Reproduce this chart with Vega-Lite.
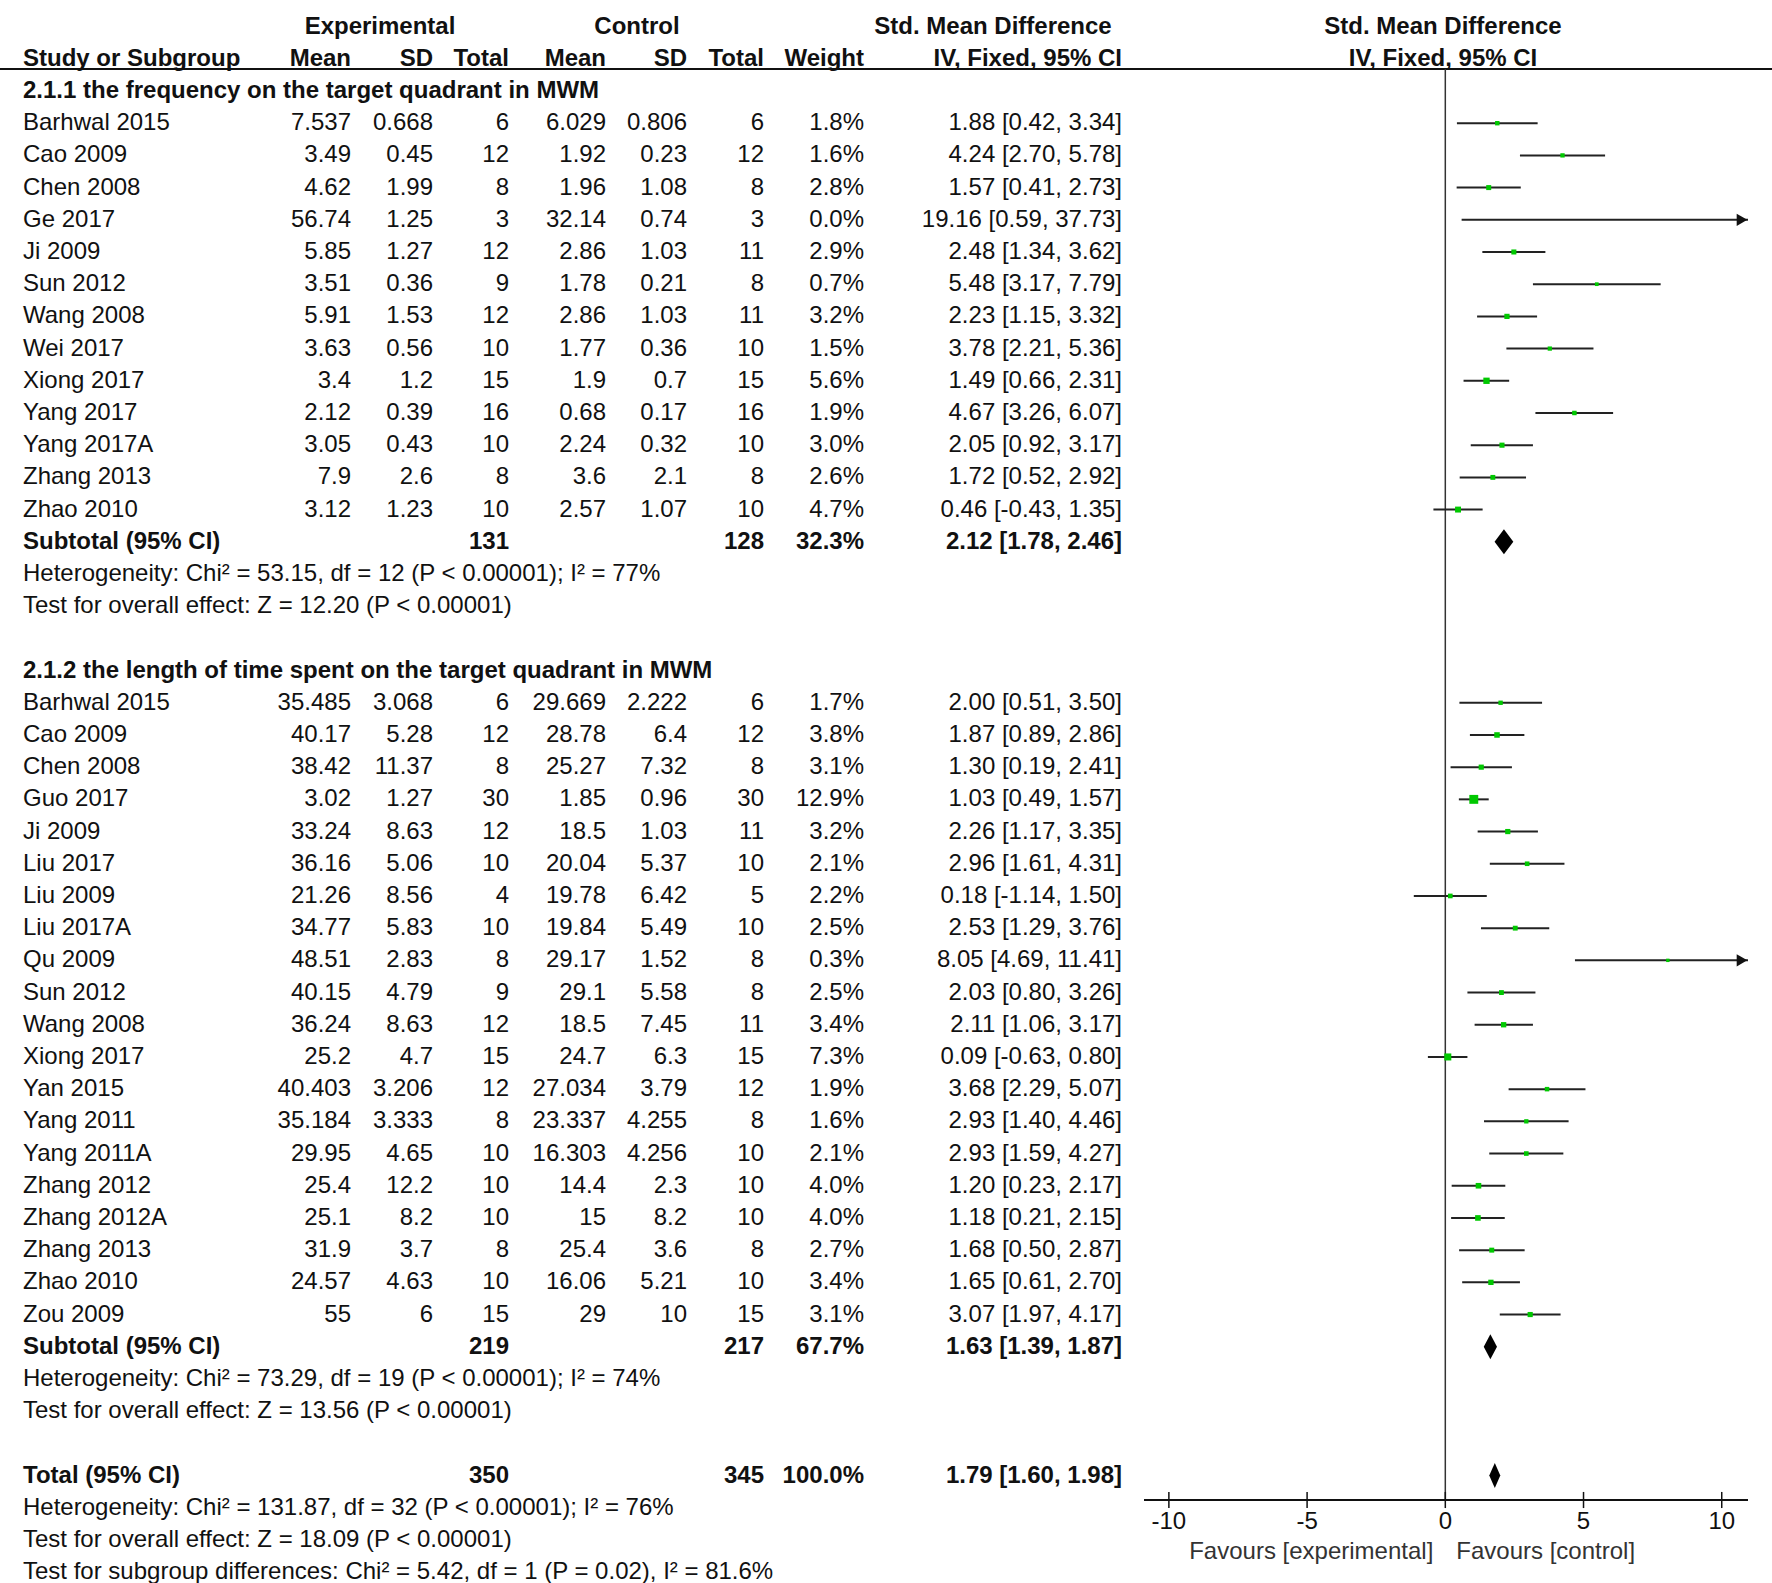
{
"$schema": "https://vega.github.io/schema/vega-lite/v6.json",
"width": 1772,
"height": 1500,
"autosize": {"type": "none"},
"padding": {"left": 0, "top": 0, "right": 0, "bottom": 83},
"background": "white",
"config": {
  "view": {"stroke": null},
  "text": {"font": "Liberation Sans", "fontSize": 24, "color": "#111"}
},
"datasets": {
  "rows": [
    {"row":0,"type":"heading","group":"2.1.1","label":"2.1.1 the frequency on the target quadrant in MWM"},
    {"row":1,"type":"study","group":"2.1.1","label":"Barhwal 2015","em":"7.537","esd":"0.668","en":"6","cm":"6.029","csd":"0.806","cn":"6","w":"1.8%","ci":"1.88 [0.42, 3.34]","wt":1.8,"smd":1.88,"lo":0.42,"hi":3.34},
    {"row":2,"type":"study","group":"2.1.1","label":"Cao 2009","em":"3.49","esd":"0.45","en":"12","cm":"1.92","csd":"0.23","cn":"12","w":"1.6%","ci":"4.24 [2.70, 5.78]","wt":1.6,"smd":4.24,"lo":2.70,"hi":5.78},
    {"row":3,"type":"study","group":"2.1.1","label":"Chen 2008","em":"4.62","esd":"1.99","en":"8","cm":"1.96","csd":"1.08","cn":"8","w":"2.8%","ci":"1.57 [0.41, 2.73]","wt":2.8,"smd":1.57,"lo":0.41,"hi":2.73},
    {"row":4,"type":"study","group":"2.1.1","label":"Ge 2017","em":"56.74","esd":"1.25","en":"3","cm":"32.14","csd":"0.74","cn":"3","w":"0.0%","ci":"19.16 [0.59, 37.73]","wt":0.0,"smd":19.16,"lo":0.59,"hi":37.73},
    {"row":5,"type":"study","group":"2.1.1","label":"Ji 2009","em":"5.85","esd":"1.27","en":"12","cm":"2.86","csd":"1.03","cn":"11","w":"2.9%","ci":"2.48 [1.34, 3.62]","wt":2.9,"smd":2.48,"lo":1.34,"hi":3.62},
    {"row":6,"type":"study","group":"2.1.1","label":"Sun 2012","em":"3.51","esd":"0.36","en":"9","cm":"1.78","csd":"0.21","cn":"8","w":"0.7%","ci":"5.48 [3.17, 7.79]","wt":0.7,"smd":5.48,"lo":3.17,"hi":7.79},
    {"row":7,"type":"study","group":"2.1.1","label":"Wang 2008","em":"5.91","esd":"1.53","en":"12","cm":"2.86","csd":"1.03","cn":"11","w":"3.2%","ci":"2.23 [1.15, 3.32]","wt":3.2,"smd":2.23,"lo":1.15,"hi":3.32},
    {"row":8,"type":"study","group":"2.1.1","label":"Wei 2017","em":"3.63","esd":"0.56","en":"10","cm":"1.77","csd":"0.36","cn":"10","w":"1.5%","ci":"3.78 [2.21, 5.36]","wt":1.5,"smd":3.78,"lo":2.21,"hi":5.36},
    {"row":9,"type":"study","group":"2.1.1","label":"Xiong 2017","em":"3.4","esd":"1.2","en":"15","cm":"1.9","csd":"0.7","cn":"15","w":"5.6%","ci":"1.49 [0.66, 2.31]","wt":5.6,"smd":1.49,"lo":0.66,"hi":2.31},
    {"row":10,"type":"study","group":"2.1.1","label":"Yang 2017","em":"2.12","esd":"0.39","en":"16","cm":"0.68","csd":"0.17","cn":"16","w":"1.9%","ci":"4.67 [3.26, 6.07]","wt":1.9,"smd":4.67,"lo":3.26,"hi":6.07},
    {"row":11,"type":"study","group":"2.1.1","label":"Yang 2017A","em":"3.05","esd":"0.43","en":"10","cm":"2.24","csd":"0.32","cn":"10","w":"3.0%","ci":"2.05 [0.92, 3.17]","wt":3.0,"smd":2.05,"lo":0.92,"hi":3.17},
    {"row":12,"type":"study","group":"2.1.1","label":"Zhang 2013","em":"7.9","esd":"2.6","en":"8","cm":"3.6","csd":"2.1","cn":"8","w":"2.6%","ci":"1.72 [0.52, 2.92]","wt":2.6,"smd":1.72,"lo":0.52,"hi":2.92},
    {"row":13,"type":"study","group":"2.1.1","label":"Zhao 2010","em":"3.12","esd":"1.23","en":"10","cm":"2.57","csd":"1.07","cn":"10","w":"4.7%","ci":"0.46 [-0.43, 1.35]","wt":4.7,"smd":0.46,"lo":-0.43,"hi":1.35},
    {"row":14,"type":"subtotal","group":"2.1.1","label":"Subtotal (95% CI)","en":"131","cn":"128","w":"32.3%","ci":"2.12 [1.78, 2.46]","smd":2.12,"lo":1.78,"hi":2.46},
    {"row":15,"type":"note","group":"2.1.1","label":"Heterogeneity: Chi² = 53.15, df = 12 (P < 0.00001); I² = 77%"},
    {"row":16,"type":"note","group":"2.1.1","label":"Test for overall effect: Z = 12.20 (P < 0.00001)"},
    {"row":18,"type":"heading","group":"2.1.2","label":"2.1.2 the length of time spent on the target quadrant in MWM"},
    {"row":19,"type":"study","group":"2.1.2","label":"Barhwal 2015","em":"35.485","esd":"3.068","en":"6","cm":"29.669","csd":"2.222","cn":"6","w":"1.7%","ci":"2.00 [0.51, 3.50]","wt":1.7,"smd":2.00,"lo":0.51,"hi":3.50},
    {"row":20,"type":"study","group":"2.1.2","label":"Cao 2009","em":"40.17","esd":"5.28","en":"12","cm":"28.78","csd":"6.4","cn":"12","w":"3.8%","ci":"1.87 [0.89, 2.86]","wt":3.8,"smd":1.87,"lo":0.89,"hi":2.86},
    {"row":21,"type":"study","group":"2.1.2","label":"Chen 2008","em":"38.42","esd":"11.37","en":"8","cm":"25.27","csd":"7.32","cn":"8","w":"3.1%","ci":"1.30 [0.19, 2.41]","wt":3.1,"smd":1.30,"lo":0.19,"hi":2.41},
    {"row":22,"type":"study","group":"2.1.2","label":"Guo 2017","em":"3.02","esd":"1.27","en":"30","cm":"1.85","csd":"0.96","cn":"30","w":"12.9%","ci":"1.03 [0.49, 1.57]","wt":12.9,"smd":1.03,"lo":0.49,"hi":1.57},
    {"row":23,"type":"study","group":"2.1.2","label":"Ji 2009","em":"33.24","esd":"8.63","en":"12","cm":"18.5","csd":"1.03","cn":"11","w":"3.2%","ci":"2.26 [1.17, 3.35]","wt":3.2,"smd":2.26,"lo":1.17,"hi":3.35},
    {"row":24,"type":"study","group":"2.1.2","label":"Liu  2017","em":"36.16","esd":"5.06","en":"10","cm":"20.04","csd":"5.37","cn":"10","w":"2.1%","ci":"2.96 [1.61, 4.31]","wt":2.1,"smd":2.96,"lo":1.61,"hi":4.31},
    {"row":25,"type":"study","group":"2.1.2","label":"Liu 2009","em":"21.26","esd":"8.56","en":"4","cm":"19.78","csd":"6.42","cn":"5","w":"2.2%","ci":"0.18 [-1.14, 1.50]","wt":2.2,"smd":0.18,"lo":-1.14,"hi":1.50},
    {"row":26,"type":"study","group":"2.1.2","label":"Liu 2017A","em":"34.77","esd":"5.83","en":"10","cm":"19.84","csd":"5.49","cn":"10","w":"2.5%","ci":"2.53 [1.29, 3.76]","wt":2.5,"smd":2.53,"lo":1.29,"hi":3.76},
    {"row":27,"type":"study","group":"2.1.2","label":"Qu 2009","em":"48.51","esd":"2.83","en":"8","cm":"29.17","csd":"1.52","cn":"8","w":"0.3%","ci":"8.05 [4.69, 11.41]","wt":0.3,"smd":8.05,"lo":4.69,"hi":11.41},
    {"row":28,"type":"study","group":"2.1.2","label":"Sun 2012","em":"40.15","esd":"4.79","en":"9","cm":"29.1","csd":"5.58","cn":"8","w":"2.5%","ci":"2.03 [0.80, 3.26]","wt":2.5,"smd":2.03,"lo":0.80,"hi":3.26},
    {"row":29,"type":"study","group":"2.1.2","label":"Wang 2008","em":"36.24","esd":"8.63","en":"12","cm":"18.5","csd":"7.45","cn":"11","w":"3.4%","ci":"2.11 [1.06, 3.17]","wt":3.4,"smd":2.11,"lo":1.06,"hi":3.17},
    {"row":30,"type":"study","group":"2.1.2","label":"Xiong 2017","em":"25.2","esd":"4.7","en":"15","cm":"24.7","csd":"6.3","cn":"15","w":"7.3%","ci":"0.09 [-0.63, 0.80]","wt":7.3,"smd":0.09,"lo":-0.63,"hi":0.80},
    {"row":31,"type":"study","group":"2.1.2","label":"Yan 2015","em":"40.403","esd":"3.206","en":"12","cm":"27.034","csd":"3.79","cn":"12","w":"1.9%","ci":"3.68 [2.29, 5.07]","wt":1.9,"smd":3.68,"lo":2.29,"hi":5.07},
    {"row":32,"type":"study","group":"2.1.2","label":"Yang 2011","em":"35.184","esd":"3.333","en":"8","cm":"23.337","csd":"4.255","cn":"8","w":"1.6%","ci":"2.93 [1.40, 4.46]","wt":1.6,"smd":2.93,"lo":1.40,"hi":4.46},
    {"row":33,"type":"study","group":"2.1.2","label":"Yang 2011A","em":"29.95","esd":"4.65","en":"10","cm":"16.303","csd":"4.256","cn":"10","w":"2.1%","ci":"2.93 [1.59, 4.27]","wt":2.1,"smd":2.93,"lo":1.59,"hi":4.27},
    {"row":34,"type":"study","group":"2.1.2","label":"Zhang 2012","em":"25.4","esd":"12.2","en":"10","cm":"14.4","csd":"2.3","cn":"10","w":"4.0%","ci":"1.20 [0.23, 2.17]","wt":4.0,"smd":1.20,"lo":0.23,"hi":2.17},
    {"row":35,"type":"study","group":"2.1.2","label":"Zhang 2012A","em":"25.1","esd":"8.2","en":"10","cm":"15","csd":"8.2","cn":"10","w":"4.0%","ci":"1.18 [0.21, 2.15]","wt":4.0,"smd":1.18,"lo":0.21,"hi":2.15},
    {"row":36,"type":"study","group":"2.1.2","label":"Zhang 2013","em":"31.9","esd":"3.7","en":"8","cm":"25.4","csd":"3.6","cn":"8","w":"2.7%","ci":"1.68 [0.50, 2.87]","wt":2.7,"smd":1.68,"lo":0.50,"hi":2.87},
    {"row":37,"type":"study","group":"2.1.2","label":"Zhao 2010","em":"24.57","esd":"4.63","en":"10","cm":"16.06","csd":"5.21","cn":"10","w":"3.4%","ci":"1.65 [0.61, 2.70]","wt":3.4,"smd":1.65,"lo":0.61,"hi":2.70},
    {"row":38,"type":"study","group":"2.1.2","label":"Zou 2009","em":"55","esd":"6","en":"15","cm":"29","csd":"10","cn":"15","w":"3.1%","ci":"3.07 [1.97, 4.17]","wt":3.1,"smd":3.07,"lo":1.97,"hi":4.17},
    {"row":39,"type":"subtotal","group":"2.1.2","label":"Subtotal (95% CI)","en":"219","cn":"217","w":"67.7%","ci":"1.63 [1.39, 1.87]","smd":1.63,"lo":1.39,"hi":1.87},
    {"row":40,"type":"note","group":"2.1.2","label":"Heterogeneity: Chi² = 73.29, df = 19 (P < 0.00001); I² = 74%"},
    {"row":41,"type":"note","group":"2.1.2","label":"Test for overall effect: Z = 13.56 (P < 0.00001)"},
    {"row":43,"type":"total","group":"all","label":"Total (95% CI)","en":"350","cn":"345","w":"100.0%","ci":"1.79 [1.60, 1.98]","smd":1.79,"lo":1.60,"hi":1.98},
    {"row":44,"type":"note","group":"all","label":"Heterogeneity: Chi² = 131.87, df = 32 (P < 0.00001); I² = 76%"},
    {"row":45,"type":"note","group":"all","label":"Test for overall effect: Z = 18.09 (P < 0.00001)"},
    {"row":46,"type":"note","group":"all","label":"Test for subgroup differences: Chi² = 5.42, df = 1 (P = 0.02), I² = 81.6%"}
  ],
  "header": [
    {"row":-2,"col":"expHead","text":"Experimental"},
    {"row":-2,"col":"ctlHead","text":"Control"},
    {"row":-2,"col":"smdHead","text":"Std. Mean Difference"},
    {"row":-2,"col":"plotHead","text":"Std. Mean Difference"},
    {"row":-1,"col":"label","text":"Study or Subgroup"},
    {"row":-1,"col":"em","text":"Mean"},
    {"row":-1,"col":"esd","text":"SD"},
    {"row":-1,"col":"en","text":"Total"},
    {"row":-1,"col":"cm","text":"Mean"},
    {"row":-1,"col":"csd","text":"SD"},
    {"row":-1,"col":"cn","text":"Total"},
    {"row":-1,"col":"w","text":"Weight"},
    {"row":-1,"col":"ci","text":"IV, Fixed, 95% CI"},
    {"row":-1,"col":"plotHead","text":"IV, Fixed, 95% CI"}
  ],
  "cols": [
    {"col":"label","pos":0},{"col":"em","pos":1},{"col":"expHead","pos":2},{"col":"esd","pos":3},
    {"col":"en","pos":4},{"col":"cm","pos":5},{"col":"ctlHead","pos":6},{"col":"csd","pos":7},
    {"col":"cn","pos":8},{"col":"w","pos":9},{"col":"smdHead","pos":10},{"col":"ci","pos":11},{"col":"plotHead","pos":12}
  ],
  "ticks": [{"v":-10},{"v":-5},{"v":0},{"v":5},{"v":10}]
},
"resolve": {"scale": {"x": "independent"}},
"layer": [
  {
    "data": {"name": "rows"},
    "layer": [
      {
        "transform": [{"filter": "datum.type == 'study' || datum.type == 'note'"}],
        "mark": {"type": "text", "align": "left"},
        "encoding": {
          "x": {"datum": 0, "type": "quantitative", "axis": null,
                "scale": {"type": "linear", "domain": [0,1,2,3,4,5,6,7,8,9,10,11,12], "range": [23,351,380,433,509,606,637,687,764,864,993,1122,1443], "nice": false, "zero": false}},
          "y": {"field": "row", "type": "quantitative", "axis": null, "scale": {"domain": [-2.826, 43.76], "reverse": true, "nice": false, "zero": false}},
          "text": {"field": "label"}
        }
      },
      {
        "transform": [{"filter": "datum.type == 'heading' || datum.type == 'subtotal' || datum.type == 'total'"}],
        "mark": {"type": "text", "align": "left", "fontWeight": "bold"},
        "encoding": {
          "x": {"datum": 0, "type": "quantitative", "axis": null,
                "scale": {"type": "linear", "domain": [0,1,2,3,4,5,6,7,8,9,10,11,12], "range": [23,351,380,433,509,606,637,687,764,864,993,1122,1443], "nice": false, "zero": false}},
          "y": {"field": "row", "type": "quantitative", "axis": null, "scale": {"domain": [-2.826, 43.76], "reverse": true, "nice": false, "zero": false}},
          "text": {"field": "label"}
        }
      },
      {
        "transform": [
          {"filter": "datum.type == 'study'"},
          {"fold": ["em","esd","en","cm","csd","cn","w","ci"], "as": ["col","val"]},
          {"filter": "datum.val != null"},
          {"lookup": "col", "from": {"data": {"name": "cols"}, "key": "col", "fields": ["pos"]}}
        ],
        "mark": {"type": "text", "align": "right"},
        "encoding": {
          "x": {"field": "pos", "type": "quantitative", "axis": null,
                "scale": {"type": "linear", "domain": [0,1,2,3,4,5,6,7,8,9,10,11,12], "range": [23,351,380,433,509,606,637,687,764,864,993,1122,1443], "nice": false, "zero": false}},
          "y": {"field": "row", "type": "quantitative", "axis": null, "scale": {"domain": [-2.826, 43.76], "reverse": true, "nice": false, "zero": false}},
          "text": {"field": "val"}
        }
      },
      {
        "transform": [
          {"filter": "datum.type == 'subtotal' || datum.type == 'total'"},
          {"fold": ["en","cn","w","ci"], "as": ["col","val"]},
          {"filter": "datum.val != null"},
          {"lookup": "col", "from": {"data": {"name": "cols"}, "key": "col", "fields": ["pos"]}}
        ],
        "mark": {"type": "text", "align": "right", "fontWeight": "bold"},
        "encoding": {
          "x": {"field": "pos", "type": "quantitative", "axis": null,
                "scale": {"type": "linear", "domain": [0,1,2,3,4,5,6,7,8,9,10,11,12], "range": [23,351,380,433,509,606,637,687,764,864,993,1122,1443], "nice": false, "zero": false}},
          "y": {"field": "row", "type": "quantitative", "axis": null, "scale": {"domain": [-2.826, 43.76], "reverse": true, "nice": false, "zero": false}},
          "text": {"field": "val"}
        }
      },
      {
        "data": {"name": "header"},
        "transform": [
          {"filter": "datum.row == -2 || datum.col == 'plotHead'"},
          {"lookup": "col", "from": {"data": {"name": "cols"}, "key": "col", "fields": ["pos"]}}
        ],
        "mark": {"type": "text", "align": "center", "fontWeight": "bold"},
        "encoding": {
          "x": {"field": "pos", "type": "quantitative", "axis": null,
                "scale": {"type": "linear", "domain": [0,1,2,3,4,5,6,7,8,9,10,11,12], "range": [23,351,380,433,509,606,637,687,764,864,993,1122,1443], "nice": false, "zero": false}},
          "y": {"field": "row", "type": "quantitative", "axis": null, "scale": {"domain": [-2.826, 43.76], "reverse": true, "nice": false, "zero": false}},
          "text": {"field": "text"}
        }
      },
      {
        "data": {"name": "header"},
        "transform": [
          {"filter": "datum.row == -1 && datum.col == 'label'"},
          {"lookup": "col", "from": {"data": {"name": "cols"}, "key": "col", "fields": ["pos"]}}
        ],
        "mark": {"type": "text", "align": "left", "fontWeight": "bold"},
        "encoding": {
          "x": {"field": "pos", "type": "quantitative", "axis": null,
                "scale": {"type": "linear", "domain": [0,1,2,3,4,5,6,7,8,9,10,11,12], "range": [23,351,380,433,509,606,637,687,764,864,993,1122,1443], "nice": false, "zero": false}},
          "y": {"field": "row", "type": "quantitative", "axis": null, "scale": {"domain": [-2.826, 43.76], "reverse": true, "nice": false, "zero": false}},
          "text": {"field": "text"}
        }
      },
      {
        "data": {"name": "header"},
        "transform": [
          {"filter": "datum.row == -1 && datum.col != 'label' && datum.col != 'plotHead'"},
          {"lookup": "col", "from": {"data": {"name": "cols"}, "key": "col", "fields": ["pos"]}}
        ],
        "mark": {"type": "text", "align": "right", "fontWeight": "bold"},
        "encoding": {
          "x": {"field": "pos", "type": "quantitative", "axis": null,
                "scale": {"type": "linear", "domain": [0,1,2,3,4,5,6,7,8,9,10,11,12], "range": [23,351,380,433,509,606,637,687,764,864,993,1122,1443], "nice": false, "zero": false}},
          "y": {"field": "row", "type": "quantitative", "axis": null, "scale": {"domain": [-2.826, 43.76], "reverse": true, "nice": false, "zero": false}},
          "text": {"field": "text"}
        }
      },
      {
        "data": {"name": "ticks"},
        "transform": [{"filter": "datum.v == 0"}],
        "mark": {"type": "rule", "color": "#111", "strokeWidth": 2},
        "encoding": {
          "y": {"datum": -0.68, "type": "quantitative", "axis": null,
                "scale": {"domain": [-2.826, 43.76], "reverse": true, "nice": false, "zero": false}}
        }
      }
    ]
  },
  {
    "data": {"name": "rows"},
    "layer": [
      {
        "data": {"name": "ticks"},
        "transform": [{"filter": "datum.v == 0"}],
        "mark": {"type": "rule", "color": "#333", "strokeWidth": 1.5},
        "encoding": {
          "x": {"field": "v", "type": "quantitative", "axis": null,
                "scale": {"domain": [-10.9, 10.95], "range": [1144, 1748], "nice": false, "zero": false, "clamp": true}},
          "y": {"datum": -0.68, "type": "quantitative", "axis": null,
                "scale": {"domain": [-2.826, 43.76], "reverse": true, "nice": false, "zero": false}},
          "y2": {"datum": 43.76}
        }
      },
      {
        "data": {"name": "ticks"},
        "transform": [{"filter": "datum.v == 0"}],
        "mark": {"type": "rule", "color": "#111", "strokeWidth": 2},
        "encoding": {
          "x": {"datum": -10.9, "type": "quantitative", "axis": null,
                "scale": {"domain": [-10.9, 10.95], "range": [1144, 1748], "nice": false, "zero": false, "clamp": true}},
          "x2": {"datum": 10.95},
          "y": {"datum": 43.76, "type": "quantitative", "axis": null,
                "scale": {"domain": [-2.826, 43.76], "reverse": true, "nice": false, "zero": false}}
        }
      },
      {
        "transform": [{"filter": "datum.type == 'study'"}],
        "mark": {"type": "rule", "color": "#222", "strokeWidth": 2},
        "encoding": {
          "x": {"field": "lo", "type": "quantitative", "axis": null,
                "scale": {"domain": [-10.9, 10.95], "range": [1144, 1748], "nice": false, "zero": false, "clamp": true}},
          "x2": {"field": "hi"},
          "y": {"field": "row", "type": "quantitative", "axis": null, "scale": {"domain": [-2.826, 43.76], "reverse": true, "nice": false, "zero": false}}
        }
      },
      {
        "transform": [{"filter": "datum.type == 'study' && datum.hi > 10.95"}],
        "mark": {"type": "point", "shape": "triangle-right", "filled": true, "color": "#111", "size": 150, "opacity": 1, "xOffset": -6},
        "encoding": {
          "x": {"field": "hi", "type": "quantitative", "axis": null,
                "scale": {"domain": [-10.9, 10.95], "range": [1144, 1748], "nice": false, "zero": false, "clamp": true}},
          "y": {"field": "row", "type": "quantitative", "axis": null, "scale": {"domain": [-2.826, 43.76], "reverse": true, "nice": false, "zero": false}}
        }
      },
      {
        "transform": [{"filter": "datum.type == 'study' && datum.smd < 10.95"}],
        "mark": {"type": "point", "shape": "square", "filled": true, "color": "#00c800", "opacity": 1},
        "encoding": {
          "x": {"field": "smd", "type": "quantitative", "axis": null,
                "scale": {"domain": [-10.9, 10.95], "range": [1144, 1748], "nice": false, "zero": false, "clamp": true}},
          "y": {"field": "row", "type": "quantitative", "axis": null, "scale": {"domain": [-2.826, 43.76], "reverse": true, "nice": false, "zero": false}},
          "size": {"field": "wt", "type": "quantitative", "legend": null,
                   "scale": {"domain": [0, 13], "range": [10, 80], "zero": false}}
        }
      },
      {
        "transform": [{"filter": "datum.type == 'subtotal' || datum.type == 'total'"}],
        "mark": {"type": "point", "filled": true, "color": "#000", "size": 625, "opacity": 1},
        "encoding": {
          "x": {"field": "smd", "type": "quantitative", "axis": null,
                "scale": {"domain": [-10.9, 10.95], "range": [1144, 1748], "nice": false, "zero": false, "clamp": true}},
          "y": {"field": "row", "type": "quantitative", "axis": null, "scale": {"domain": [-2.826, 43.76], "reverse": true, "nice": false, "zero": false}},
          "shape": {"field": "group", "type": "nominal", "legend": null,
                    "scale": {"domain": ["2.1.1", "2.1.2", "all"],
                              "range": ["M -0.75 0 L 0 -1 L 0.75 0 L 0 1 Z", "M -0.53 0 L 0 -1 L 0.53 0 L 0 1 Z", "M -0.44 0 L 0 -1 L 0.44 0 L 0 1 Z"]}}
        }
      },
      {
        "data": {"name": "ticks"},
        "mark": {"type": "rule", "color": "#111", "strokeWidth": 1.5},
        "encoding": {
          "x": {"field": "v", "type": "quantitative", "axis": null,
                "scale": {"domain": [-10.9, 10.95], "range": [1144, 1748], "nice": false, "zero": false, "clamp": true}},
          "y": {"datum": 43.51, "type": "quantitative", "axis": null,
                "scale": {"domain": [-2.826, 43.76], "reverse": true, "nice": false, "zero": false}},
          "y2": {"datum": 44.01}
        }
      },
      {
        "data": {"name": "ticks"},
        "mark": {"type": "text", "align": "center", "color": "#111"},
        "encoding": {
          "x": {"field": "v", "type": "quantitative", "axis": null,
                "scale": {"domain": [-10.9, 10.95], "range": [1144, 1748], "nice": false, "zero": false, "clamp": true}},
          "y": {"datum": 44.45, "type": "quantitative", "axis": null,
                "scale": {"domain": [-2.826, 43.76], "reverse": true, "nice": false, "zero": false}},
          "text": {"field": "v", "type": "nominal"}
        }
      },
      {
        "data": {"name": "ticks"},
        "transform": [{"filter": "datum.v == 0"}],
        "mark": {"type": "text", "align": "right", "dx": -12, "color": "#333"},
        "encoding": {
          "x": {"field": "v", "type": "quantitative", "axis": null,
                "scale": {"domain": [-10.9, 10.95], "range": [1144, 1748], "nice": false, "zero": false, "clamp": true}},
          "y": {"datum": 45.36, "type": "quantitative", "axis": null,
                "scale": {"domain": [-2.826, 43.76], "reverse": true, "nice": false, "zero": false}},
          "text": {"value": "Favours [experimental]"}
        }
      },
      {
        "data": {"name": "ticks"},
        "transform": [{"filter": "datum.v == 0"}],
        "mark": {"type": "text", "align": "left", "dx": 11, "color": "#333"},
        "encoding": {
          "x": {"field": "v", "type": "quantitative", "axis": null,
                "scale": {"domain": [-10.9, 10.95], "range": [1144, 1748], "nice": false, "zero": false, "clamp": true}},
          "y": {"datum": 45.36, "type": "quantitative", "axis": null,
                "scale": {"domain": [-2.826, 43.76], "reverse": true, "nice": false, "zero": false}},
          "text": {"value": "Favours [control]"}
        }
      }
    ]
  }
]
}
